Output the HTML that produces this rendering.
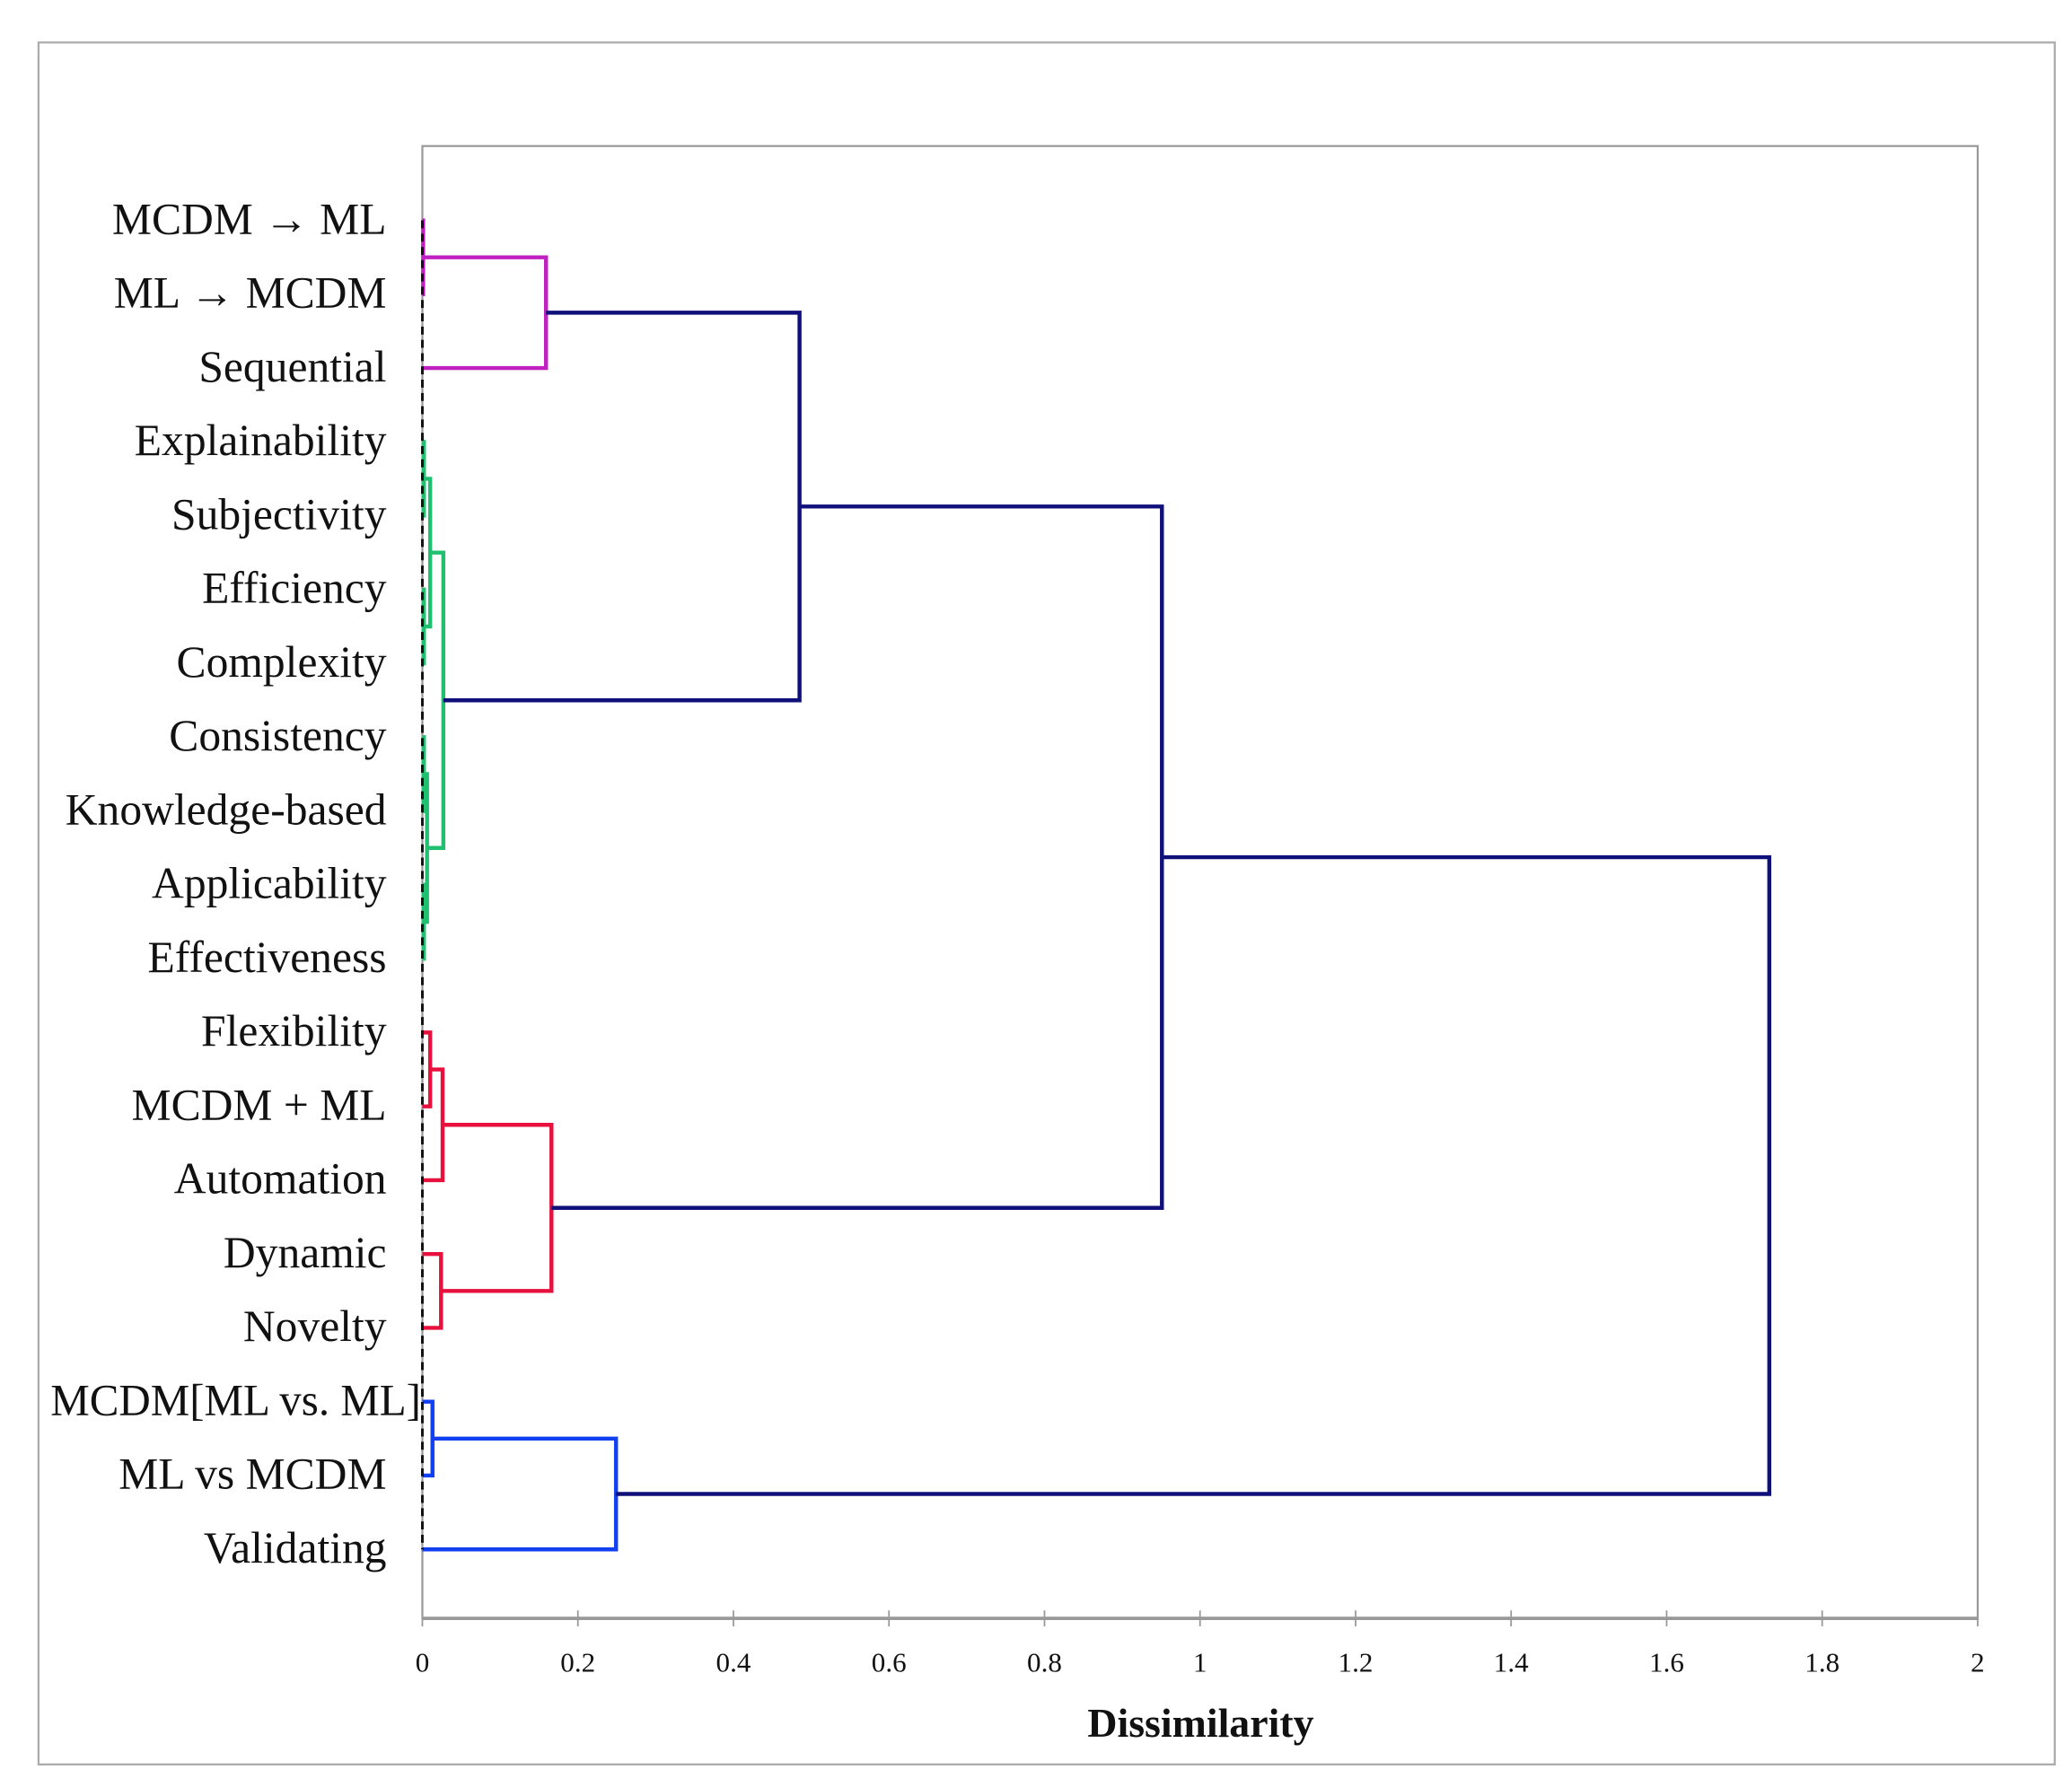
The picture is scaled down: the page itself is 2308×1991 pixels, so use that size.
<!DOCTYPE html>
<html><head><meta charset="utf-8"><style>
html,body{margin:0;padding:0;background:#fff;}
svg{display:block;}
text{font-family:"Liberation Serif",serif;fill:#111;}
</style></head><body>
<svg id="chart" width="2308" height="1991" viewBox="0 0 1560 1346" preserveAspectRatio="none" xmlns="http://www.w3.org/2000/svg">
<rect x="29" y="32" width="1518" height="1297" fill="#fff" stroke="#aaa" stroke-width="1.5"/>
<g id="axes"></g>
<g id="links"></g>
<g id="labels"></g>
</svg>
<script>
const leaves = ["MCDM \u2192 ML","ML \u2192 MCDM","Sequential","Explainability","Subjectivity","Efficiency","Complexity","Consistency","Knowledge-based","Applicability","Effectiveness","Flexibility","MCDM + ML","Automation","Dynamic","Novelty","MCDM[ML vs. ML]","ML vs MCDM","Validating"];
const mergeLeft   = [0,19,3,5,21,7,9,24,23,20,11,29,14,30,28,16,34,33];
const mergeRight  = [1,2,4,6,22,8,10,25,26,27,12,13,15,31,32,17,18,35];
const mergeHeight = [0.001,0.159,0.002,0.002,0.010,0.002,0.002,0.006,0.027,0.485,0.010,0.026,0.024,0.166,0.951,0.013,0.249,1.732];
const mergeColor  = ["#c020c0","#c020c0","#20c070","#20c070","#20c070","#20c070","#20c070","#20c070","#20c070","#10107a","#e8103c","#e8103c","#e8103c","#e8103c","#10107a","#1040f0","#1040f0","#10107a"];
const xTicks = [0,0.2,0.4,0.6,0.8,1,1.2,1.4,1.6,1.8,2];
const xTickLabels = ["0","0.2","0.4","0.6","0.8","1","1.2","1.4","1.6","1.8","2"];

const NS="http://www.w3.org/2000/svg";
const X0=318, X1=1489, Y0=110, Y1=1219;
const xScale = v => X0 + (v - 0) / (2 - 0) * (X1 - X0);
const yLeaf = i => 166 + i * (1167 - 166) / (leaves.length - 1);
function mk(tag, attrs, parent){const e=document.createElementNS(NS,tag);for(const k in attrs)e.setAttribute(k,attrs[k]);parent.appendChild(e);return e;}

const axes=document.getElementById('axes');
let pa=mk('rect',{x:X0,y:Y0,width:X1-X0,height:Y1-Y0,fill:'none',stroke:'#999','stroke-width':1.5},axes);


let xa=mk('line',{x1:X0,y1:Y1,x2:X1,y2:Y1,stroke:'#999','stroke-width':2.5},axes);


xTicks.forEach((t,i)=>{
  const x=xScale(t);
  const tk=mk('line',{x1:x,y1:Y1-6,x2:x,y2:Y1+6,stroke:'#999','stroke-width':1.2},axes);
  
  
  const tl=mk('text',{x:x,y:1259,'font-size':21,'text-anchor':'middle'},axes);
  tl.textContent=xTickLabels[i];
  
  
});
const ttl=mk('text',{x:904,y:1308,'font-size':31,'font-weight':'bold','text-anchor':'middle'},axes);
ttl.textContent="Dissimilarity";



const nodeX=[], nodeY=[];
leaves.forEach((l,i)=>{nodeX.push(0);nodeY.push(yLeaf(i));});
const links=document.getElementById('links');
mergeLeft.forEach((a,k)=>{
  const b=mergeRight[k], h=mergeHeight[k];
  const xa_=xScale(nodeX[a]), xb=xScale(nodeX[b]), xh=xScale(h);
  const ya=nodeY[a], yb=nodeY[b];
  const p=mk('path',{d:`M${xa_},${ya}H${xh}V${yb}H${xb}`,fill:'none',stroke:mergeColor[k],'stroke-width':3},links);
  
  
  nodeX.push(h);nodeY.push((ya+yb)/2);
});
const dl=mk('line',{x1:X0,y1:yLeaf(0),x2:X0,y2:yLeaf(leaves.length-1),stroke:'#111','stroke-width':2,'stroke-dasharray':'6,4'},links);



const lab=document.getElementById('labels');
leaves.forEach((l,i)=>{
  const t=mk('text',{x:291,y:yLeaf(i)+10,'font-size':33.5,'text-anchor':'end'},lab);
  if(i===16){t.setAttribute('x',317);t.setAttribute('textLength',279);t.setAttribute('lengthAdjust','spacingAndGlyphs');}
  t.textContent=l;
  
  
});
</script>
</body></html>
